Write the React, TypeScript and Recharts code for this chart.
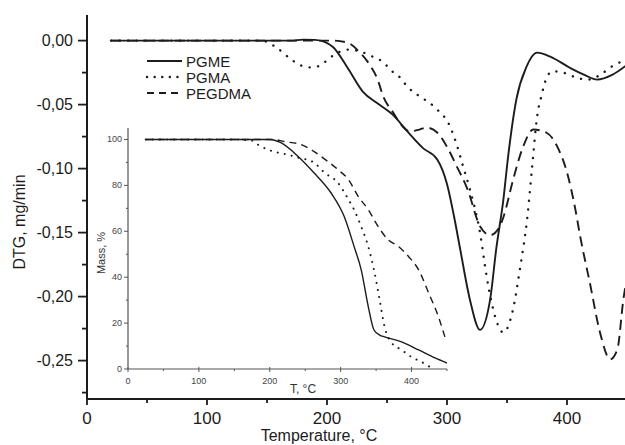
import React from "react"
import { LineChart, Line, XAxis, YAxis, Legend } from "recharts"

// main plot: DTG vs temperature
const pgmeT = [20, 60, 100, 140, 170, 180, 190, 198, 205, 217, 230, 242, 255, 267, 280, 292, 300, 306, 311, 319, 327.5, 336, 341, 347, 351, 358, 366, 375, 386, 402, 415, 425, 438, 450]
const pgmeDtg = [0, 0, 0, 0, 0, 0.0008, 0.0006, -0.001, -0.005, -0.021, -0.04, -0.049, -0.058, -0.071, -0.084, -0.093, -0.112, -0.138, -0.163, -0.202, -0.226, -0.202, -0.163, -0.124, -0.09, -0.045, -0.021, -0.0094, -0.0125, -0.021, -0.027, -0.0305, -0.0266, -0.019]

const pgmaT = [20, 60, 100, 140, 148, 158, 172, 180, 188, 195, 203, 211, 219, 228, 238, 247, 253, 261, 267, 278, 286, 292, 302, 308, 313, 319, 327.5, 333, 338, 347, 355, 361, 367, 371, 375, 379, 383, 388, 397, 408, 417, 428, 436, 444, 450]
const pgmaDtg = [0, 0, 0, 0, -0.0005, -0.0055, -0.016, -0.02, -0.021, -0.019, -0.013, -0.0086, -0.007, -0.0086, -0.0125, -0.017, -0.023, -0.029, -0.036, -0.044, -0.049, -0.054, -0.066, -0.081, -0.097, -0.116, -0.15, -0.184, -0.208, -0.228, -0.21, -0.177, -0.1375, -0.098, -0.06, -0.042, -0.029, -0.024, -0.025, -0.029, -0.0305, -0.0266, -0.021, -0.017, -0.015]

const pegdmaT = [20, 100, 160, 205, 217, 227.5, 236, 242, 247, 255, 263, 269, 277, 283, 292, 300, 308, 317, 327.5, 336, 344, 347, 355, 363, 372, 383, 392, 400, 407, 411, 419, 427.5, 436, 442, 447, 450]
const pegdmaDtg = [0, 0, 0, 0, -0.0016, -0.0094, -0.0195, -0.03, -0.044, -0.056, -0.067, -0.071, -0.0695, -0.068, -0.072, -0.083, -0.098, -0.116, -0.145, -0.152, -0.145, -0.138, -0.109, -0.084, -0.0695, -0.072, -0.083, -0.103, -0.132, -0.153, -0.189, -0.228, -0.249, -0.241, -0.202, -0.185]

// inset: mass vs temperature
const pgmeMassT = [25, 100, 150, 200, 215, 240, 262, 286, 305, 319, 329, 339, 347, 355, 362, 386, 410, 433, 450]
const pgmeMass = [100, 100, 100, 100, 98.7, 92.6, 85.6, 76.9, 66.4, 53.3, 43.2, 27.1, 17, 14.8, 14, 11.8, 8.3, 4.8, 2.6]

const pgmaMassT = [25, 100, 150, 175, 183, 197, 211, 225, 240, 262, 277, 296, 311, 319, 329, 339, 347, 355, 362, 372, 386, 400, 414, 426]
const pgmaMass = [100, 100, 100, 99.5, 97.8, 95.6, 94.3, 93.4, 92.1, 90, 85.6, 81.2, 73.8, 69.4, 62, 53.3, 43.2, 30.1, 18.3, 11.4, 8.3, 5.2, 3.1, 0.9]

const pegdmaMassT = [25, 100, 150, 205, 220, 244, 262, 282, 296, 311, 325, 339, 353, 367, 382, 396, 410, 424, 438, 447]
const pegdmaMass = [100, 100, 100, 100, 99.1, 97.8, 94.8, 90.4, 86.9, 82.5, 75.1, 69.4, 62, 56.3, 53.3, 48.9, 43.2, 33.2, 22.7, 14]

const seriesNames = ["PGME", "PGMA", "PEGDMA"]

const mainXTicks = [0, 50, 100, 150, 200, 250, 300, 350, 400]
const mainYTicks = [-0.275, -0.25, -0.225, -0.2, -0.175, -0.15, -0.125, -0.1, -0.075, -0.05, -0.025, 0]
const insetXTicks = [0, 50, 100, 150, 200, 250, 300, 350, 400, 450]
const insetYTicks = [0, 10, 20, 30, 40, 50, 60, 70, 80, 90, 100]

const rows = (ts: number[], vs: number[]) => ts.map((t, i) => ({ t, v: vs[i] }))

const INK = "#1c1c1c"
const FONT = "'Liberation Sans', Arial, sans-serif"

const styles: Record<string, { dash?: string; legendDash?: string; insetDash?: string; width: number; insetWidth: number; cap?: "round" }> = {
  PGME: { width: 1.9, insetWidth: 1.4 },
  PGMA: { dash: "0.1 8.5", legendDash: "0.1 7.5", insetDash: "0.1 7", width: 2.4, insetWidth: 2, cap: "round" },
  PEGDMA: { dash: "10 6", legendDash: "7 5", insetDash: "7 5", width: 1.9, insetWidth: 1.4 },
}

const isStep = (v: number, step: number) => Math.abs(v / step - Math.round(v / step)) < 1e-6

const comma = (v: number) => v.toFixed(2).replace(".", ",")

function MainYTick({ x, y, payload }: any) {
  const major = isStep(payload.value, 0.05)
  return (
    <g>
      <line x1={x - (major ? 9 : 5)} x2={x} y1={y} y2={y} stroke={INK} strokeWidth={1.8} />
      {major && (
        <text x={x - 14} y={y + 5} textAnchor="end" fontSize={16} fill={INK} fontFamily={FONT}>
          {comma(payload.value)}
        </text>
      )}
    </g>
  )
}

function MainXTick({ x, y, payload }: any) {
  const major = isStep(payload.value, 100)
  return (
    <g>
      <line x1={x} x2={x} y1={y} y2={y + (major ? 6 : 4)} stroke={INK} strokeWidth={1.8} />
      {major && (
        <text x={x} y={y + 25} textAnchor="middle" fontSize={17} fill={INK} fontFamily={FONT}>
          {payload.value}
        </text>
      )}
    </g>
  )
}

function InsetYTick({ x, y, payload }: any) {
  const major = isStep(payload.value, 20)
  return (
    <g>
      <line x1={x - (major ? 4 : 2)} x2={x} y1={y} y2={y} stroke="#555" strokeWidth={1} />
      {major && (
        <text x={x - 6} y={y + 3} textAnchor="end" fontSize={9} fill="#444" fontFamily={FONT}>
          {payload.value}
        </text>
      )}
    </g>
  )
}

function InsetXTick({ x, y, payload }: any) {
  const major = isStep(payload.value, 100)
  return (
    <g>
      <line x1={x} x2={x} y1={y - (major ? 2 : 0)} y2={y + (major ? 3 : 2)} stroke="#555" strokeWidth={1} />
      {major && (
        <text x={x} y={y + 15} textAnchor="middle" fontSize={9} fill="#444" fontFamily={FONT}>
          {payload.value}
        </text>
      )}
    </g>
  )
}

function LegendBox({ payload }: any) {
  const items = [...(payload || [])].sort(
    (a: any, b: any) => seriesNames.indexOf(a.value) - seriesNames.indexOf(b.value),
  )
  return (
    <svg width={130} height={48}>
      {items.map((entry: any, i: number) => {
        const s = styles[entry.value]
        const cy = 9 + i * 16
        return (
          <g key={entry.value}>
            <line
              x1={2}
              x2={37}
              y1={cy}
              y2={cy}
              stroke={INK}
              strokeWidth={s.width}
              strokeDasharray={s.legendDash}
              strokeLinecap={s.cap}
            />
            <text x={41} y={cy + 5.5} fontSize={15} fill={INK} fontFamily={FONT}>
              {entry.value}
            </text>
          </g>
        )
      })}
    </svg>
  )
}

const mainSeries = [
  { name: seriesNames[0], data: rows(pgmeT, pgmeDtg) },
  { name: seriesNames[1], data: rows(pgmaT, pgmaDtg) },
  { name: seriesNames[2], data: rows(pegdmaT, pegdmaDtg) },
]

const insetSeries = [
  { name: seriesNames[0], data: rows(pgmeMassT, pgmeMass) },
  { name: seriesNames[1], data: rows(pgmaMassT, pgmaMass) },
  { name: seriesNames[2], data: rows(pegdmaMassT, pegdmaMass) },
]

export default function App() {
  return (
    <div
      style={{
        position: "absolute",
        left: 0,
        top: 0,
        width: 625,
        height: 445,
        overflow: "hidden",
        background: "#fff",
        fontFamily: FONT,
      }}
    >
      <div style={{ position: "absolute", left: 0, top: 0 }}>
        <LineChart width={630} height={445} margin={{ top: 15, right: 3, bottom: 0, left: 0 }}>
          <XAxis
            type="number"
            dataKey="t"
            domain={[0, 450]}
            allowDataOverflow
            ticks={mainXTicks}
            interval={0}
            height={46}
            tickSize={0}
            tickMargin={0}
            tickLine={false}
            axisLine={{ stroke: INK, strokeWidth: 2 }}
            tick={(p: any) => <MainXTick {...p} />}
          />
          <YAxis
            type="number"
            domain={[-0.28, 0.02]}
            allowDataOverflow
            ticks={mainYTicks}
            interval={0}
            width={87}
            tickSize={0}
            tickMargin={0}
            tickLine={false}
            axisLine={{ stroke: INK, strokeWidth: 2 }}
            tick={(p: any) => <MainYTick {...p} />}
          />
          {mainSeries.map((s) => (
            <Line
              key={s.name}
              name={s.name}
              data={s.data}
              dataKey="v"
              type="monotone"
              stroke={INK}
              strokeWidth={styles[s.name].width}
              strokeDasharray={styles[s.name].dash}
              strokeLinecap={styles[s.name].cap}
              dot={false}
              isAnimationActive={false}
            />
          ))}
          <Legend
            layout="vertical"
            align="center"
            verticalAlign="middle"
            wrapperStyle={{ left: 145, top: 52, width: 130, height: 48 }}
            content={(p: any) => <LegendBox {...p} />}
          />
          <text
            x={25}
            y={222}
            transform="rotate(-90 25 222)"
            textAnchor="middle"
            fontSize={16}
            fill={INK}
            fontFamily={FONT}
          >
            DTG, mg/min
          </text>
          <text x={319} y={441} textAnchor="middle" fontSize={16} fill={INK} fontFamily={FONT}>
            Temperature, °C
          </text>
        </LineChart>
      </div>

      <div style={{ position: "absolute", left: 86, top: 118 }}>
        <LineChart width={372} height={282} margin={{ top: 10, right: 11, bottom: 0, left: 0 }}>
          <XAxis
            type="number"
            dataKey="t"
            domain={[0, 450]}
            allowDataOverflow
            ticks={insetXTicks}
            interval={0}
            height={31}
            tickSize={0}
            tickMargin={0}
            tickLine={false}
            axisLine={{ stroke: "#555", strokeWidth: 1.2 }}
            tick={(p: any) => <InsetXTick {...p} />}
          />
          <YAxis
            type="number"
            domain={[0, 105]}
            allowDataOverflow
            ticks={insetYTicks}
            interval={0}
            width={42}
            tickSize={0}
            tickMargin={0}
            tickLine={false}
            axisLine={{ stroke: "#555", strokeWidth: 1.2 }}
            tick={(p: any) => <InsetYTick {...p} />}
          />
          {insetSeries.map((s) => (
            <Line
              key={s.name}
              name={s.name}
              data={s.data}
              dataKey="v"
              type="monotone"
              stroke={INK}
              strokeWidth={styles[s.name].insetWidth}
              strokeDasharray={styles[s.name].insetDash}
              strokeLinecap={styles[s.name].cap}
              dot={false}
              legendType="none"
              isAnimationActive={false}
            />
          ))}
          <text
            x={19}
            y={135}
            transform="rotate(-90 19 135)"
            textAnchor="middle"
            fontSize={11}
            fill="#333"
            fontFamily={FONT}
          >
            Mass, %
          </text>
          <text x={217} y={275} textAnchor="middle" fontSize={12} fill="#333" fontFamily={FONT}>
            T, °C
          </text>
        </LineChart>
      </div>
    </div>
  )
}
